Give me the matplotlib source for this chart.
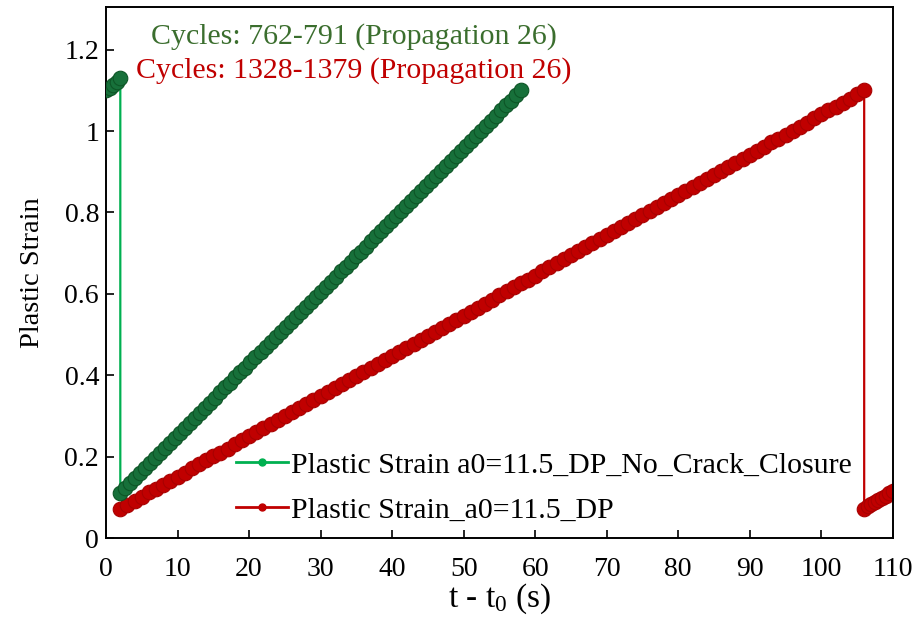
import matplotlib.pyplot as plt
from matplotlib.lines import Line2D
import matplotlib as mpl

mpl.rcParams["font.family"] = ["Liberation Serif", "DejaVu Serif"]
mpl.rcParams["mathtext.fontset"] = "custom"
mpl.rcParams["mathtext.rm"] = "Liberation Serif"
mpl.rcParams["mathtext.it"] = "Liberation Serif"

# Propagation 26, no crack closure (cycles 762-791)
green_t = [0.0, 0.5, 1.0, 1.5, 2.0,
           2.0, 2.7, 3.4, 4.1, 4.8, 5.5, 6.2, 6.9, 7.6, 8.3, 9.0, 9.7, 10.4,
           11.1, 11.8, 12.5, 13.2, 13.9, 14.6, 15.3, 16.0, 16.7, 17.4, 18.1,
           18.8, 19.5, 20.2, 20.9, 21.6, 22.3, 23.0, 23.7, 24.4, 25.1, 25.8,
           26.5, 27.2, 27.9, 28.6, 29.3, 30.0, 30.7, 31.4, 32.1, 32.8, 33.5,
           34.2, 34.9, 35.6, 36.3, 37.0, 37.7, 38.4, 39.1, 39.8, 40.5, 41.2,
           41.9, 42.6, 43.3, 44.0, 44.7, 45.4, 46.1, 46.8, 47.5, 48.2, 48.9,
           49.6, 50.3, 51.0, 51.7, 52.4, 53.1, 53.8, 54.5, 55.2, 55.9, 56.6,
           57.3, 58.0]
green_eps = [1.100, 1.106, 1.113, 1.121, 1.130,
             0.110, 0.122, 0.135, 0.147, 0.160, 0.172, 0.184, 0.197, 0.209,
             0.221, 0.234, 0.246, 0.259, 0.271, 0.283, 0.296, 0.308, 0.320,
             0.333, 0.345, 0.358, 0.370, 0.382, 0.395, 0.407, 0.419, 0.432,
             0.444, 0.457, 0.469, 0.481, 0.494, 0.506, 0.518, 0.531, 0.543,
             0.556, 0.568, 0.580, 0.593, 0.605, 0.617, 0.630, 0.642, 0.655,
             0.667, 0.679, 0.692, 0.704, 0.716, 0.729, 0.741, 0.754, 0.766,
             0.778, 0.791, 0.803, 0.815, 0.828, 0.840, 0.853, 0.865, 0.877,
             0.890, 0.902, 0.914, 0.927, 0.939, 0.952, 0.964, 0.976, 0.989,
             1.001, 1.013, 1.026, 1.038, 1.051, 1.063, 1.075, 1.088, 1.100]

# Propagation 26, DP (cycles 1328-1379)
red_t = [2, 3, 4, 5, 6, 7, 8, 9, 10, 11, 12, 13, 14, 15, 16, 17, 18, 19, 20,
         21, 22, 23, 24, 25, 26, 27, 28, 29, 30, 31, 32, 33, 34, 35, 36, 37,
         38, 39, 40, 41, 42, 43, 44, 45, 46, 47, 48, 49, 50, 51, 52, 53, 54,
         55, 56, 57, 58, 59, 60, 61, 62, 63, 64, 65, 66, 67, 68, 69, 70, 71,
         72, 73, 74, 75, 76, 77, 78, 79, 80, 81, 82, 83, 84, 85, 86, 87, 88,
         89, 90, 91, 92, 93, 94, 95, 96, 97, 98, 99, 100, 101, 102, 103, 104,
         105, 106,
         106, 106.5, 107, 107.5, 108, 108.5, 109, 109.5, 110]
red_eps = [0.072, 0.082, 0.092, 0.102, 0.112, 0.121, 0.131, 0.141, 0.151,
           0.161, 0.171, 0.181, 0.191, 0.201, 0.210, 0.220, 0.230, 0.240,
           0.250, 0.260, 0.270, 0.280, 0.289, 0.299, 0.309, 0.319, 0.329,
           0.339, 0.349, 0.359, 0.369, 0.378, 0.388, 0.398, 0.408, 0.418,
           0.428, 0.438, 0.448, 0.458, 0.467, 0.477, 0.487, 0.497, 0.507,
           0.517, 0.527, 0.537, 0.546, 0.556, 0.566, 0.576, 0.586, 0.596,
           0.606, 0.616, 0.626, 0.635, 0.645, 0.655, 0.665, 0.675, 0.685,
           0.695, 0.705, 0.715, 0.724, 0.734, 0.744, 0.754, 0.764, 0.774,
           0.784, 0.794, 0.803, 0.813, 0.823, 0.833, 0.843, 0.853, 0.863,
           0.873, 0.883, 0.892, 0.902, 0.912, 0.922, 0.932, 0.942, 0.952,
           0.962, 0.972, 0.981, 0.991, 1.001, 1.011, 1.021, 1.031, 1.041,
           1.051, 1.060, 1.070, 1.080, 1.090, 1.100,
           0.072, 0.078, 0.083, 0.088, 0.093, 0.099, 0.104, 0.110, 0.115]

green_label = "Plastic Strain a0=11.5_DP_No_Crack_Closure"
red_label = "Plastic Strain_a0=11.5_DP"
green_title = "Cycles: 762-791 (Propagation 26)"
red_title = "Cycles: 1328-1379 (Propagation 26)"

GREEN_LINE = "#00b050"
GREEN_DOT = "#17703a"
RED = "#c00000"

fig = plt.figure(figsize=(9.17, 6.18), dpi=100)
ax = fig.add_axes([0.1156, 0.1294, 0.858, 0.8593])

ax.plot(green_t, green_eps, color=GREEN_LINE, lw=1.6, marker="o", ms=10.5,
        mfc=GREEN_DOT, mec="#0d5526", mew=0.8, zorder=3)
ax.plot(red_t, red_eps, color=RED, lw=1.6, marker="o", ms=10.5,
        mfc=RED, mec="#a80000", mew=0.8, zorder=2)

ax.set_xlim(0, 110)
ax.set_ylim(0, 1.305)
ax.set_xticks(range(0, 111, 10))
ax.set_yticks([0, 0.2, 0.4, 0.6, 0.8, 1.0, 1.2])
ax.set_yticklabels(["0", "0.2", "0.4", "0.6", "0.8", "1", "1.2"])
ax.tick_params(direction="in", length=6, width=1.2, labelsize=20)
ax.tick_params(axis="x", pad=14)
ax.tick_params(axis="y", pad=5)
for s in ax.spines.values():
    s.set_linewidth(1.4)

ax.set_xlabel(r"t - t$_0$ (s)", fontsize=24, labelpad=-1)
ax.set_ylabel("Plastic Strain", fontsize=20.5, labelpad=14)

ax.text(0.3155, 0.945, green_title, transform=ax.transAxes, ha="center",
        va="center", fontsize=21.5, color="#3b6e2e")
ax.text(0.3155, 0.881, red_title, transform=ax.transAxes, ha="center",
        va="center", fontsize=21.5, color=RED)

handles = [Line2D([], [], color=GREEN_LINE, lw=2, marker="o", ms=5,
                  mfc=GREEN_LINE, mec=GREEN_LINE),
           Line2D([], [], color=RED, lw=2, marker="o", ms=5, mfc=RED, mec=RED)]
ax.legend(handles, [green_label, red_label], loc="upper left",
          bbox_to_anchor=(0.1654, 0.162), frameon=False, fontsize=21.5,
          borderpad=0, borderaxespad=0, handlelength=1.75,
          handletextpad=0.1, labelspacing=0.6)

fig.savefig("out.png", dpi=100)
